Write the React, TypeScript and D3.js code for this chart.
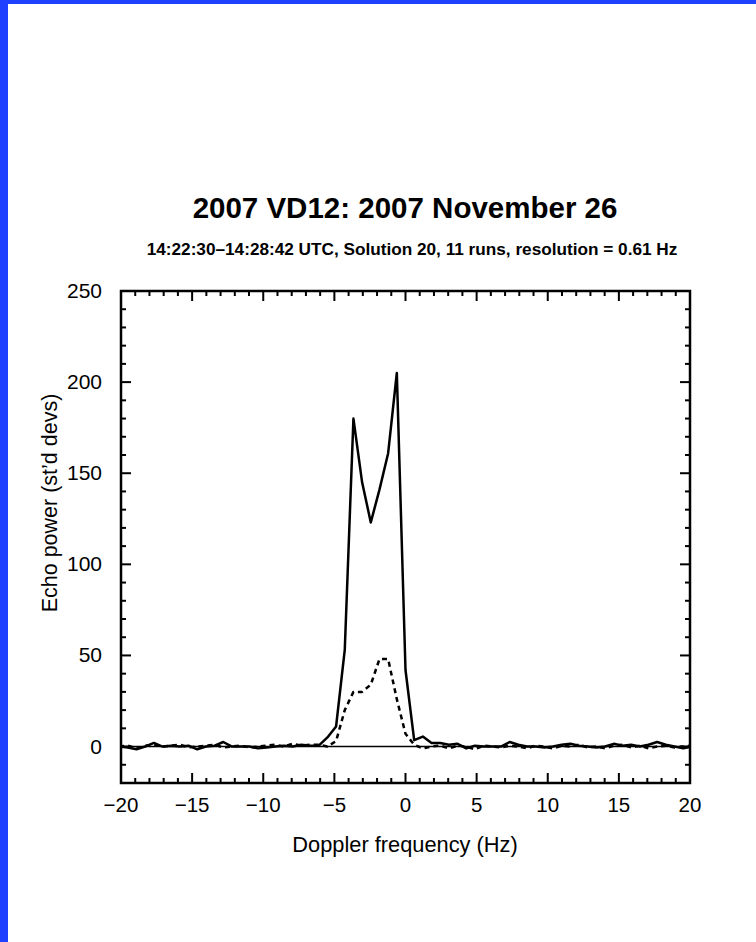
import React, { useEffect, useRef } from 'react';
import * as d3 from 'd3';

// Doppler bins (Hz), 0.61 Hz resolution
const freqs = [
  -20.13, -19.52, -18.91, -18.3, -17.69, -17.08, -16.47, -15.86, -15.25, -14.64,
  -14.03, -13.42, -12.81, -12.2, -11.59, -10.98, -10.37, -9.76, -9.15, -8.54,
  -7.93, -7.32, -6.71, -6.1, -5.49, -4.88, -4.27, -3.66, -3.05, -2.44,
  -1.83, -1.22, -0.61, 0, 0.61, 1.22, 1.83, 2.44, 3.05, 3.66,
  4.27, 4.88, 5.49, 6.1, 6.71, 7.32, 7.93, 8.54, 9.15, 9.76,
  10.37, 10.98, 11.59, 12.2, 12.81, 13.42, 14.03, 14.64, 15.25, 15.86,
  16.47, 17.08, 17.69, 18.3, 18.91, 19.52, 20.13,
];

// OC echo (solid)
const ocPower = [
  0, -0.5, -1.5, 0, 2, 0, 0.5, 0, 0.5, -1.5,
  0, 0.5, 2.5, 0, 0, 0, -1, -0.5, 0, 0.5,
  0, 1, 0.5, 0.5, 5, 11, 53, 180, 145, 123,
  141, 161, 205, 42, 3.5, 5.5, 2, 2, 1, 1.5,
  -1, 0.5, 0, 0, 0, 2.5, 1, 0, 0, -0.5,
  0, 1, 1.5, 0.5, 0, -0.5, 0, 1.5, 0.5, 1,
  0, 1, 2.5, 1, 0, -1, 0,
];

// SC echo (dashed)
const scPower = [
  0, 0.5, -1, 0.5, 1, 0, 0.5, 1, -0.5, 0,
  0.5, 1, -0.5, 0, 0.5, -0.5, 0, 0.5, 1, 0,
  1.5, 0.5, 1, 1, 0, 3, 20, 30, 30, 34,
  48, 48, 26, 7, 1, -1, 0, 0.5, -1, 0.5,
  0, -1.5, 0.5, 0, -0.5, 0.5, 0, -1, 0.5, 0,
  -1, 0.5, 0, 1, -0.5, 0, -1, 0.5, 1, -0.5,
  0.5, -1, 0, 0.5, -0.5, 0, 0.5,
];

const xTicks = [-20, -15, -10, -5, 0, 5, 10, 15, 20];
const yTicks = [0, 50, 100, 150, 200, 250];

const title = '2007 VD12: 2007 November 26';
const subtitle = '14:22:30\u201314:28:42 UTC, Solution 20, 11 runs, resolution = 0.61 Hz';

export default function App() {
  const ref = useRef<SVGSVGElement>(null);

  useEffect(() => {
    const W = 756, H = 942;
    const m = { left: 121, right: 690, top: 291, bottom: 783 };
    const font = 'Liberation Sans, Arial, Helvetica, sans-serif';

    const svg = d3.select(ref.current).attr('width', W).attr('height', H);
    svg.selectAll('*').remove();

    svg.append('rect').attr('width', W).attr('height', H).attr('fill', '#fff');
    // blue page edge
    svg.append('rect').attr('x', 0).attr('y', 0).attr('width', W).attr('height', 4).attr('fill', '#2040ff');
    svg.append('rect').attr('x', 0).attr('y', 0).attr('width', 8).attr('height', H).attr('fill', '#2040ff');

    const x = d3.scaleLinear().domain([-20, 20]).range([m.left, m.right]);
    const y = d3.scaleLinear().domain([-20, 250]).range([m.bottom, m.top]);

    svg.append('defs').append('clipPath').attr('id', 'plotclip')
      .append('rect')
      .attr('x', m.left).attr('y', m.top)
      .attr('width', m.right - m.left).attr('height', m.bottom - m.top);

    const g = svg.append('g');

    // zero line
    g.append('line')
      .attr('x1', m.left).attr('x2', m.right)
      .attr('y1', y(0)).attr('y2', y(0))
      .attr('stroke', '#000').attr('stroke-width', 1.6);

    const line = d3.line<number>()
      .x((d, i) => x(freqs[i]))
      .y(d => y(d));

    const lines = g.append('g').attr('clip-path', 'url(#plotclip)');
    lines.append('path').datum(scPower)
      .attr('d', line)
      .attr('fill', 'none').attr('stroke', '#000').attr('stroke-width', 2.5)
      .attr('stroke-dasharray', '5,4').attr('stroke-linejoin', 'round');
    lines.append('path').datum(ocPower)
      .attr('d', line)
      .attr('fill', 'none').attr('stroke', '#000').attr('stroke-width', 2.5)
      .attr('stroke-linejoin', 'round');

    // ticks, inward on all four sides
    const ticks = g.append('g').attr('stroke', '#000').attr('stroke-width', 2);
    d3.range(-20, 21, 1).forEach(v => {
      const len = v % 5 === 0 ? 10 : 5;
      ticks.append('line').attr('x1', x(v)).attr('x2', x(v)).attr('y1', m.bottom).attr('y2', m.bottom - len);
      ticks.append('line').attr('x1', x(v)).attr('x2', x(v)).attr('y1', m.top).attr('y2', m.top + len);
    });
    d3.range(-20, 251, 10).forEach(v => {
      const len = v % 50 === 0 ? 10 : 5;
      ticks.append('line').attr('y1', y(v)).attr('y2', y(v)).attr('x1', m.left).attr('x2', m.left + len);
      ticks.append('line').attr('y1', y(v)).attr('y2', y(v)).attr('x1', m.right).attr('x2', m.right - len);
    });

    // frame
    g.append('rect')
      .attr('x', m.left).attr('y', m.top)
      .attr('width', m.right - m.left).attr('height', m.bottom - m.top)
      .attr('fill', 'none').attr('stroke', '#000').attr('stroke-width', 2.5);

    // tick labels
    g.append('g').selectAll('text').data(xTicks).enter().append('text')
      .attr('x', d => x(d)).attr('y', 812)
      .attr('text-anchor', 'middle')
      .attr('font-family', font).attr('font-size', 20.5)
      .text(d => (d < 0 ? '\u2212' + Math.abs(d) : String(d)));

    g.append('g').selectAll('text').data(yTicks).enter().append('text')
      .attr('x', 102).attr('y', d => y(d) + 7)
      .attr('text-anchor', 'end')
      .attr('font-family', font).attr('font-size', 21)
      .text(d => String(d));

    // axis titles
    svg.append('text')
      .attr('x', 405).attr('y', 852)
      .attr('text-anchor', 'middle')
      .attr('font-family', font).attr('font-size', 21.8)
      .text('Doppler frequency (Hz)');

    svg.append('text')
      .attr('transform', 'translate(57,503) rotate(-90)')
      .attr('text-anchor', 'middle')
      .attr('font-family', font).attr('font-size', 21.5)
      .text('Echo power (st\u2019d devs)');

    // titles
    svg.append('text')
      .attr('x', 405).attr('y', 218)
      .attr('text-anchor', 'middle')
      .attr('font-family', font).attr('font-size', 29.5).attr('font-weight', 'bold')
      .text(title);

    svg.append('text')
      .attr('x', 412).attr('y', 255)
      .attr('text-anchor', 'middle')
      .attr('font-family', font).attr('font-size', 17.2).attr('font-weight', 'bold')
      .text(subtitle);
  }, []);

  return (
    <div style={{ position: 'fixed', left: 0, top: 0 }}>
      <svg ref={ref} width={756} height={942} style={{ display: 'block' }}></svg>
    </div>
  );
}
